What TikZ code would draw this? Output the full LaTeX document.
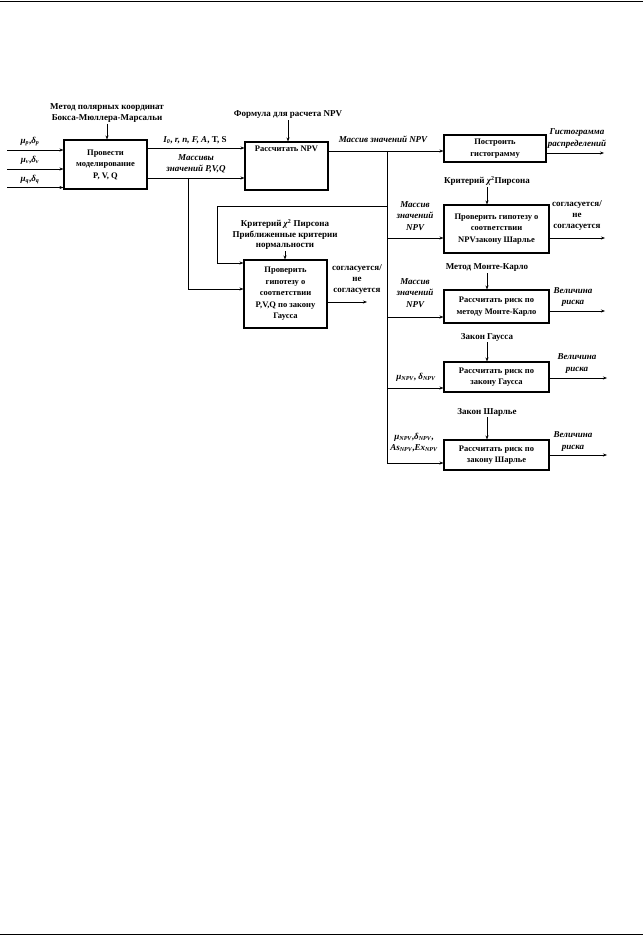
\documentclass[tikz,border=0pt]{standalone}
\usepackage{fontspec}
\setmainfont{Liberation Serif}
\usetikzlibrary{arrows.meta,calc}
\newcommand{\gsub}[2]{{\itshape #1}\textsubscript{\itshape #2}}
\begin{document}
\begin{tikzpicture}[x=1pt,y=-1pt,
  box/.style={draw, line width=1.1pt, inner sep=1pt, align=center, font=\bfseries\fontsize{8.5}{11.5}\selectfont},
  lbl/.style={align=center, inner sep=1pt, font=\bfseries\fontsize{9}{11}\selectfont},
  ilbl/.style={align=center, inner sep=1pt, font=\bfseries\itshape\fontsize{9}{11.5}\selectfont},
  arr/.style={-{Stealth[length=4pt,width=3pt]}, line width=0.6pt},
  ln/.style={line width=0.6pt},
  rule/.style={line width=1.6pt}]
\path[use as bounding box] (0,0) rectangle (643,936);
\draw[rule] (0,1.5) -- (643,1.5);
\draw[rule] (0,934.5) -- (643,934.5);

% boxes
\node[box, minimum width=83pt, minimum height=49pt] (b1) at (105.5,164.5) {Провести\\моделирование\\P, V, Q};
\node[box, minimum width=83pt, minimum height=48pt] (b2) at (286.5,166) {};
\node[box, draw=none, anchor=north, inner sep=0pt] (b2t) at ([yshift=-4pt]b2.north) {Рассчитать NPV};
\node[box, minimum width=102pt, minimum height=27pt] (b3) at (495,148.5) {Построить\\гистограмму};
\node[box, minimum width=105pt, minimum height=48pt] (b4) at (496.5,229) {Проверить гипотезу о\\соответствии\\NPVзакону Шарлье};
\node[box, minimum width=83pt, minimum height=68pt] (b5) at (285.5,294) {Проверить\\гипотезу о\\соответствии\\P,V,Q по закону\\Гаусса};
\node[box, minimum width=105pt, minimum height=33pt] (b6) at (496.5,306.5) {Рассчитать риск по\\методу Монте-Карло};
\node[box, minimum width=105pt, minimum height=30pt] (b7) at (496.5,377) {Рассчитать риск по\\закону Гаусса};
\node[box, minimum width=105pt, minimum height=30pt] (b8) at (496.5,455) {Рассчитать риск по\\закону Шарлье};

% labels
\node[lbl] (L1) at (107,113) {Метод полярных координат\\Бокса-Мюллера-Марсальи};
\node[lbl] (L2) at (288,115) {Формула для расчета NPV};
\node[ilbl] (L3) at (383,139) {Массив значений NPV};
\node[ilbl] (L4) at (577,138.5) {Гистограмма\\распределений};
\node[lbl] (L5) at (487,181) {Критерий {\itshape χ}\textsuperscript{2}Пирсона};
\node[lbl] (L6) at (577,215.5) {согласуется/\\не\\согласуется};
\node[ilbl] (L7) at (415,216) {Массив\\значений\\NPV};
\node[lbl, font=\bfseries\fontsize{9}{10.5}\selectfont] (L8) at (285,234.5) {Критерий {\itshape χ}\textsuperscript{2} Пирсона\\Приближенные критерии\\нормальности};
\node[lbl] (L9) at (357,280) {согласуется/\\не\\согласуется};
\node[lbl] (L10) at (487,268) {Метод Монте-Карло};
\node[ilbl] (L11) at (415,293) {Массив\\значений\\NPV};
\node[ilbl] (L12) at (573,297) {Величина\\риска};
\node[lbl] (L13) at (487,337) {Закон Гаусса};
\node[lbl] (L14) at (416,377) {\gsub{μ}{NPV}, \gsub{δ}{NPV}};
\node[ilbl] (L15) at (577,363.5) {Величина\\риска};
\node[lbl] (L16) at (487,412) {Закон Шарлье};
\node[lbl] (L17) at (414,442.5) {\gsub{μ}{NPV},\gsub{δ}{NPV},\\\gsub{As}{NPV},\gsub{Ex}{NPV}};
\node[ilbl] (L18) at (573,441.5) {Величина\\риска};
\node[lbl] (Lp) at (30,141) {\gsub{μ}{p},\gsub{δ}{p}};
\node[lbl] (Lv) at (30,160) {\gsub{μ}{v},\gsub{δ}{v}};
\node[lbl] (Lq) at (30,179) {\gsub{μ}{q},\gsub{δ}{q}};
\node[lbl] (Li) at (195,140) {\gsub{I}{0}, {\itshape r, n, F, A}, T, S};
\node[ilbl] (Lm) at (196,164) {Массивы\\значений P,V,Q};

% inputs to b1
\coordinate (i1) at (7,150);
\coordinate (i2) at (7,169);
\coordinate (i3) at (7,187.5);
\draw[arr] (i1) -- (i1 -| b1.west);
\draw[arr] (i2) -- (i2 -| b1.west);
\draw[arr] (i3) -- (i3 -| b1.west);

% top arrows
\draw[arr] (L1.south) -- (L1.south |- b1.north);
\draw[arr] (L2.south) -- (L2.south |- b2.north);
\draw[arr] (L5.south) -- (L5.south |- b4.north);
\draw[arr] (L8.south) -- (L8.south |- b5.north);
\draw[arr] (L10.south) -- (L10.south |- b6.north);
\draw[arr] (L13.south) -- (L13.south |- b7.north);
\draw[arr] (L16.south) -- (L16.south |- b8.north);

% b1 -> b2
\coordinate (o1) at ([yshift=16.5pt]b1.east);
\coordinate (o2) at ([yshift=-13.5pt]b1.east);
\draw[arr] (o1) -- (o1 -| b2.west);
\draw[arr] (o2) -- (o2 -| b2.west);
\coordinate (j1) at (188,178);
\coordinate (j1b) at (188,289);
\draw[arr] (j1) -- (j1b) -- (j1b -| b5.west);

% b2 -> b3 and trunk
\coordinate (o3) at ([yshift=15pt]b2.east);
\draw[arr] (o3) -- (o3 -| b3.west);
\coordinate (t0) at (387,151);
\coordinate (t1) at (387,206);
\coordinate (t4) at (387,238);
\coordinate (t6) at (387,317);
\coordinate (t7) at (387,388);
\coordinate (t8) at (387,463);
\draw[ln] (t0) -- (t8);
\draw[arr] (t4) -- (t4 -| b4.west);
\draw[arr] (t6) -- (t6 -| b6.west);
\draw[arr] (t7) -- (t7 -| b7.west);
\draw[arr] (t8) -- (t8 -| b8.west);
\coordinate (lp) at (217,206);
\coordinate (lp2) at (217,263);
\draw[arr] (t1) -- (lp) -- (lp2) -- (lp2 -| b5.west);

% outputs
\coordinate (e3) at (604,153);
\coordinate (e4) at (605,238);
\coordinate (e5) at (367,302);
\coordinate (e6) at (605,311);
\coordinate (e7) at (607,378);
\coordinate (e8) at (607,455);
\draw[arr] (e3 -| b3.east) -- (e3);
\draw[arr] (e4 -| b4.east) -- (e4);
\draw[arr] (e5 -| b5.east) -- (e5);
\draw[arr] (e6 -| b6.east) -- (e6);
\draw[arr] (e7 -| b7.east) -- (e7);
\draw[arr] (e8 -| b8.east) -- (e8);
\end{tikzpicture}
\end{document}
